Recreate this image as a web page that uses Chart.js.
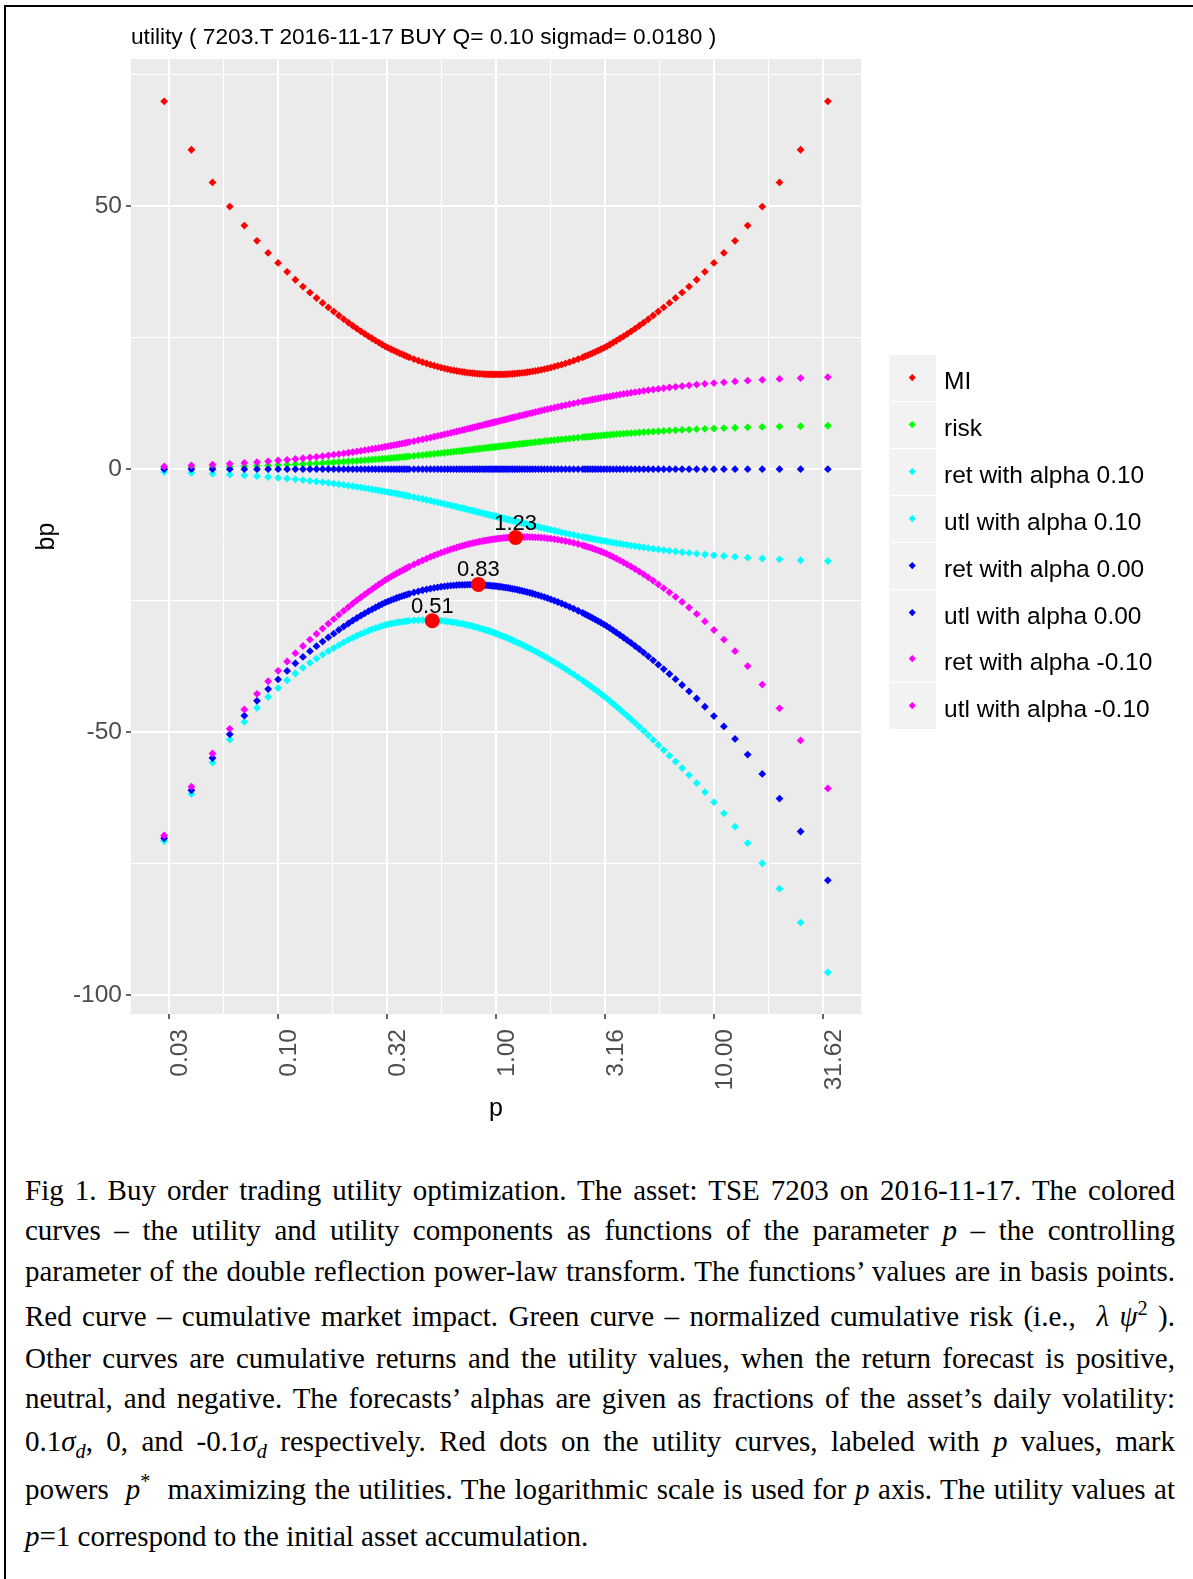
<!DOCTYPE html>
<html><head><meta charset="utf-8">
<script src="https://cdn.jsdelivr.net/npm/chart.js@4.4.1/dist/chart.umd.min.js"></script>
<style>
html,body{margin:0;padding:0;background:#fff;}
body{width:1193px;height:1579px;position:relative;overflow:hidden;font-family:"Liberation Sans",Arial,sans-serif;}
#frame{position:absolute;left:4px;top:5px;width:1300px;height:1700px;border-left:2px solid #000;border-top:2px solid #000;}
#wrap{position:absolute;left:0;top:0;width:1193px;height:1135px;}
#title{position:absolute;left:131px;top:23px;font-size:22.7px;line-height:26px;color:#000;white-space:nowrap;}
#legend{position:absolute;left:889px;top:355px;}
.row{position:absolute;left:0;width:300px;height:47px;}
.key{position:absolute;left:0;top:0;width:47px;height:46px;background:#F2F2F2;}
.key i{position:absolute;left:21px;top:20px;width:4.5px;height:4.5px;transform:rotate(45deg);}
.lab{position:absolute;left:55px;top:2px;font-size:24.5px;line-height:47px;color:#000;white-space:nowrap;}
.cap{position:absolute;left:25px;width:1150px;font-family:"Liberation Serif","Times New Roman",serif;font-size:29px;line-height:30px;color:#000;text-align:justify;text-align-last:justify;white-space:nowrap;}
.cap.last{text-align-last:left;}
.cap sub,.cap sup{line-height:0;font-size:0.7em;}
</style>
</head><body>
<div id="frame"></div>
<div id="wrap"><canvas id="c" width="1193" height="1135"></canvas></div>
<div id="title">utility ( 7203.T 2016-11-17 BUY Q= 0.10 sigmad= 0.0180 )</div>
<div id="legend"></div>
<div class="cap" style="top:1175px">Fig 1. Buy order trading utility optimization. The asset: TSE 7203 on 2016-11-17. The colored</div>
<div class="cap" style="top:1215px">curves – the utility and utility components as functions of the parameter <i>p</i> – the controlling</div>
<div class="cap" style="top:1256px">parameter of the double reflection power-law transform. The functions’ values are in basis points.</div>
<div class="cap" style="top:1301px">Red curve – cumulative market impact. Green curve – normalized cumulative risk (i.e., &nbsp;<i>λ ψ</i><sup>2</sup> ).</div>
<div class="cap" style="top:1343px">Other curves are cumulative returns and the utility values, when the return forecast is positive,</div>
<div class="cap" style="top:1383px">neutral, and negative. The forecasts’ alphas are given as fractions of the asset’s daily volatility:</div>
<div class="cap" style="top:1426px">0.1<i>σ<sub>d</sub></i>, 0, and -0.1<i>σ<sub>d</sub></i> respectively. Red dots on the utility curves, labeled with <i>p</i> values, mark</div>
<div class="cap" style="top:1474px">powers &nbsp;<i>p</i><sup>*</sup>&nbsp; maximizing the utilities. The logarithmic scale is used for <i>p</i> axis. The utility values at</div>
<div class="cap last" style="top:1521px"><i>p</i>=1 correspond to the initial asset accumulation.</div>
<script>
// ---------- data ----------
const pValues = [0.03,0.04,0.05,0.06,0.07,0.08,0.09,0.10,0.11,0.12,0.13,0.14,0.15,0.16,0.17,0.18,0.19,0.20,0.21,0.22,0.23,0.24,0.25,0.26,0.27,0.28,0.29,0.30,0.31,0.32,0.33,0.34,0.35,0.36,0.37,0.38,0.39,0.40,
0.42,0.44,0.46,0.48,0.50,0.52,0.54,0.56,0.58,0.60,0.62,0.64,0.66,0.68,0.70,0.72,0.74,0.76,0.78,0.80,0.82,0.84,0.86,0.88,0.90,0.92,0.94,0.96,0.98,1.00,
1.0204,1.0417,1.0638,1.0870,1.1111,1.1364,1.1628,1.1905,1.2195,1.2500,1.2821,1.3158,1.3514,1.3889,1.4286,1.4706,1.5152,1.5625,1.6129,1.6667,1.7241,1.7857,1.8519,1.9231,2.0000,2.0833,2.1739,2.2727,2.3810,
2.5000,2.5641,2.6316,2.7027,2.7778,2.8571,2.9412,3.0303,3.1250,3.2258,3.3333,3.4483,3.5714,3.7037,3.8462,4.0000,4.1667,4.3478,4.5455,4.7619,5.0000,5.2632,5.5556,5.8824,6.2500,6.6667,7.1429,7.6923,8.3333,9.0909,10.000,11.111,12.500,14.286,16.667,20.000,25.000,33.333];

const miValues = [69.9,60.7,54.5,49.9,46.3,43.4,41.1,39.2,37.5,36.0,34.7,33.56,32.53,31.60,30.74,29.96,29.20,28.50,27.85,27.25,26.70,26.18,25.70,25.25,24.83,24.43,24.05,23.69,23.35,23.06,22.79,22.53,22.29,22.06,21.85,21.64,21.45,21.26,
20.92,20.62,20.34,20.09,19.86,19.66,19.47,19.30,19.15,19.01,18.88,18.77,18.67,18.57,18.49,18.42,18.35,18.29,18.24,18.19,18.15,18.12,18.09,18.06,18.04,18.03,18.01,18.01,18.00,18.00,
18.00,18.01,18.01,18.03,18.04,18.06,18.09,18.12,18.15,18.19,18.24,18.29,18.35,18.42,18.49,18.57,18.67,18.77,18.88,19.01,19.15,19.30,19.47,19.66,19.86,20.09,20.34,20.62,20.92,
21.26,21.45,21.64,21.85,22.06,22.29,22.53,22.79,23.06,23.35,23.69,24.05,24.43,24.83,25.25,25.70,26.18,26.70,27.25,27.85,28.50,29.20,29.96,30.74,31.60,32.53,33.56,34.7,36.0,37.5,39.2,41.1,43.4,46.3,49.9,54.5,60.7,69.9];

const riskValues = [0.25,0.33,0.40,0.48,0.56,0.63,0.70,0.77,0.84,0.91,0.98,1.04,1.11,1.17,1.24,1.30,1.36,1.42,1.48,1.53,1.59,1.65,1.70,1.75,1.81,1.86,1.91,1.96,2.01,2.06,2.11,2.16,2.20,2.25,2.30,2.34,2.39,2.43,
2.51,2.60,2.68,2.76,2.83,2.91,2.98,3.05,3.12,3.19,3.25,3.32,3.38,3.44,3.50,3.56,3.61,3.67,3.72,3.78,3.83,3.88,3.93,3.98,4.03,4.07,4.12,4.16,4.21,4.25,
4.29,4.34,4.38,4.43,4.47,4.52,4.57,4.62,4.67,4.72,4.78,4.83,4.89,4.94,5.00,5.06,5.12,5.18,5.25,5.31,5.38,5.45,5.52,5.59,5.67,5.74,5.82,5.90,5.99,
6.07,6.11,6.16,6.20,6.25,6.30,6.34,6.39,6.44,6.49,6.54,6.59,6.64,6.69,6.75,6.80,6.85,6.91,6.97,7.02,7.08,7.14,7.20,7.26,7.33,7.39,7.46,7.52,7.59,7.66,7.73,7.80,7.87,7.94,8.02,8.10,8.17,8.25];

const retAlphaPos = [-0.52,-0.69,-0.86,-1.02,-1.18,-1.33,-1.49,-1.64,-1.78,-1.93,-2.07,-2.21,-2.35,-2.48,-2.62,-2.75,-2.87,-3.00,-3.12,-3.25,-3.37,-3.48,-3.60,-3.71,-3.83,-3.94,-4.05,-4.15,-4.26,-4.36,-4.47,-4.57,-4.67,-4.76,-4.86,-4.96,-5.05,-5.14,
-5.32,-5.50,-5.67,-5.84,-6.00,-6.16,-6.31,-6.46,-6.61,-6.75,-6.89,-7.02,-7.16,-7.29,-7.41,-7.53,-7.66,-7.77,-7.89,-8.00,-8.11,-8.22,-8.32,-8.43,-8.53,-8.63,-8.72,-8.82,-8.91,-9.00,
-9.09,-9.18,-9.28,-9.38,-9.47,-9.57,-9.68,-9.78,-9.89,-10.00,-10.11,-10.23,-10.34,-10.47,-10.59,-10.71,-10.84,-10.98,-11.11,-11.25,-11.39,-11.54,-11.69,-11.84,-12.00,-12.16,-12.33,-12.50,-12.68,
-12.86,-12.95,-13.04,-13.14,-13.24,-13.33,-13.43,-13.53,-13.64,-13.74,-13.85,-13.95,-14.06,-14.17,-14.29,-14.40,-14.52,-14.63,-14.75,-14.88,-15.00,-15.13,-15.25,-15.38,-15.52,-15.65,-15.79,-15.93,-16.07,-16.22,-16.36,-16.51,-16.67,-16.82,-16.98,-17.14,-17.31,-17.48];

const utlAlphaPos = [-70.67,-61.72,-55.76,-51.40,-48.04,-45.36,-43.29,-41.61,-40.12,-38.84,-37.75,-36.81,-35.99,-35.25,-34.60,-34.01,-33.43,-32.92,-32.45,-32.03,-31.66,-31.31,-31.00,-30.71,-30.47,-30.23,-30.01,-29.80,-29.62,-29.48,-29.37,-29.26,-29.16,-29.07,-29.01,-28.94,-28.89,-28.83,
-28.75,-28.72,-28.69,-28.69,-28.69,-28.73,-28.76,-28.81,-28.88,-28.95,-29.02,-29.11,-29.21,-29.30,-29.40,-29.51,-29.62,-29.73,-29.85,-29.97,-30.09,-30.22,-30.34,-30.47,-30.60,-30.73,-30.85,-30.99,-31.12,-31.25,
-31.38,-31.53,-31.67,-31.84,-31.98,-32.15,-32.34,-32.52,-32.71,-32.91,-33.13,-33.35,-33.58,-33.83,-34.08,-34.34,-34.63,-34.93,-35.24,-35.57,-35.92,-36.29,-36.68,-37.09,-37.53,-37.99,-38.49,-39.02,-39.59,
-40.19,-40.51,-40.84,-41.19,-41.55,-41.92,-42.30,-42.71,-43.14,-43.58,-44.08,-44.59,-45.13,-45.69,-46.29,-46.90,-47.55,-48.24,-48.97,-49.75,-50.58,-51.47,-52.41,-53.38,-54.45,-55.57,-56.81,-58.15,-59.66,-61.38,-63.29,-65.41,-67.94,-71.06,-74.90,-79.74,-86.18,-95.63];

const retAlphaZero = [0,0,0,0,0,0,0,0,0,0, 0,0,0,0,0,0,0,0,0,0, 0,0,0,0,0,0,0,0,0,0, 0,0,0,0,0,0,0,0,0,0, 0,0,0,0,0,0,0,0,0,0, 0,0,0,0,0,0,0,0,0,0, 0,0,0,0,0,0,0,0,0,0,
0,0,0,0,0,0,0,0,0,0, 0,0,0,0,0,0,0,0,0,0, 0,0,0,0,0,0,0,0,0,0, 0,0,0,0,0,0,0,0,0,0, 0,0,0,0,0,0,0,0,0,0, 0,0,0,0,0,0,0,0,0,0, 0,0,0,0,0];

const utlAlphaZero = [-70.15,-61.03,-54.90,-50.38,-46.86,-44.03,-41.80,-39.97,-38.34,-36.91,-35.68,-34.60,-33.64,-32.77,-31.98,-31.26,-30.56,-29.92,-29.33,-28.78,-28.29,-27.83,-27.40,-27.00,-26.64,-26.29,-25.96,-25.65,-25.36,-25.12,-24.90,-24.69,-24.49,-24.31,-24.15,-23.98,-23.84,-23.69,
-23.43,-23.22,-23.02,-22.85,-22.69,-22.57,-22.45,-22.35,-22.27,-22.20,-22.13,-22.09,-22.05,-22.01,-21.99,-21.98,-21.96,-21.96,-21.96,-21.97,-21.98,-22.00,-22.02,-22.04,-22.07,-22.10,-22.13,-22.17,-22.21,-22.25,
-22.29,-22.35,-22.39,-22.46,-22.51,-22.58,-22.66,-22.74,-22.82,-22.91,-23.02,-23.12,-23.24,-23.36,-23.49,-23.63,-23.79,-23.95,-24.13,-24.32,-24.53,-24.75,-24.99,-25.25,-25.53,-25.83,-26.16,-26.52,-26.91,
-27.33,-27.56,-27.80,-28.05,-28.31,-28.59,-28.87,-29.18,-29.50,-29.84,-30.23,-30.64,-31.07,-31.52,-32.00,-32.50,-33.03,-33.61,-34.22,-34.87,-35.58,-36.34,-37.16,-38.00,-38.93,-39.92,-41.02,-42.22,-43.59,-45.16,-46.93,-48.90,-51.27,-54.24,-57.92,-62.60,-68.87,-78.15];

const retAlphaNeg = [0.52,0.69,0.86,1.02,1.18,1.33,1.49,1.64,1.78,1.93,2.07,2.21,2.35,2.48,2.62,2.75,2.87,3.00,3.12,3.25,3.37,3.48,3.60,3.71,3.83,3.94,4.05,4.15,4.26,4.36,4.47,4.57,4.67,4.76,4.86,4.96,5.05,5.14,
5.32,5.50,5.67,5.84,6.00,6.16,6.31,6.46,6.61,6.75,6.89,7.02,7.16,7.29,7.41,7.53,7.66,7.77,7.89,8.00,8.11,8.22,8.32,8.43,8.53,8.63,8.72,8.82,8.91,9.00,
9.09,9.18,9.28,9.38,9.47,9.57,9.68,9.78,9.89,10.00,10.11,10.23,10.34,10.47,10.59,10.71,10.84,10.98,11.11,11.25,11.39,11.54,11.69,11.84,12.00,12.16,12.33,12.50,12.68,
12.86,12.95,13.04,13.14,13.24,13.33,13.43,13.53,13.64,13.74,13.85,13.95,14.06,14.17,14.29,14.40,14.52,14.63,14.75,14.88,15.00,15.13,15.25,15.38,15.52,15.65,15.79,15.93,16.07,16.22,16.36,16.51,16.67,16.82,16.98,17.14,17.31,17.48];

const utlAlphaNeg = [-69.63,-60.34,-54.04,-49.36,-45.68,-42.70,-40.31,-38.33,-36.56,-34.98,-33.61,-32.39,-31.29,-30.29,-29.36,-28.51,-27.69,-26.92,-26.21,-25.53,-24.92,-24.35,-23.80,-23.29,-22.81,-22.35,-21.91,-21.50,-21.10,-20.76,-20.43,-20.12,-19.82,-19.55,-19.29,-19.02,-18.79,-18.55,
-18.11,-17.72,-17.35,-17.01,-16.69,-16.41,-16.14,-15.89,-15.66,-15.45,-15.24,-15.07,-14.89,-14.72,-14.58,-14.45,-14.30,-14.19,-14.07,-13.97,-13.87,-13.78,-13.70,-13.61,-13.54,-13.47,-13.41,-13.35,-13.30,-13.25,
-13.20,-13.17,-13.11,-13.08,-13.04,-13.01,-12.98,-12.96,-12.93,-12.91,-12.91,-12.89,-12.90,-12.89,-12.90,-12.92,-12.95,-12.97,-13.02,-13.07,-13.14,-13.21,-13.30,-13.41,-13.53,-13.67,-13.83,-14.02,-14.23,
-14.47,-14.61,-14.76,-14.91,-15.07,-15.26,-15.44,-15.65,-15.86,-16.10,-16.38,-16.69,-17.01,-17.35,-17.71,-18.10,-18.51,-18.98,-19.47,-19.99,-20.58,-21.21,-21.91,-22.62,-23.41,-24.27,-25.23,-26.29,-27.52,-28.94,-30.57,-32.39,-34.60,-37.42,-40.94,-45.46,-51.56,-60.67];

// maximizing powers p* and utility values there
const optP = [0.51, 0.83, 1.23];
const optU = [-28.8, -21.9, -13.0];
const optLabels = ['0.51', '0.83', '1.23'];

const seriesNames = ['MI', 'risk', 'ret with alpha 0.10', 'utl with alpha 0.10', 'ret with alpha 0.00', 'utl with alpha 0.00', 'ret with alpha -0.10', 'utl with alpha -0.10'];
const seriesValues = [miValues, riskValues, retAlphaPos, utlAlphaPos, retAlphaZero, utlAlphaZero, retAlphaNeg, utlAlphaNeg];

const xTickValues = [0.0316228, 0.0562341, 0.1, 0.1778279, 0.3162278, 0.5623413, 1, 1.7782794, 3.1622777, 5.6234133, 10, 17.7827941, 31.6227766];
const xTickLabels = ['0.03', '', '0.10', '', '0.32', '', '1.00', '', '3.16', '', '10.00', '', '31.62'];
const yTickValues = [-100, -75, -50, -25, 0, 25, 50, 75];
const yTickLabels = ['-100', '', '-50', '', '0', '', '50', ''];

// ---------- styles ----------
const seriesColors = ['#FF0000', '#00FF00', '#00FFFF', '#00FFFF', '#0000FF', '#0000FF', '#FF00FF', '#FF00FF'];
const FONT = '"Liberation Sans", Arial, sans-serif';

const datasets = seriesNames.map((name, k) => ({
  type: 'scatter',
  label: name,
  data: pValues.map((p, i) => ({x: p, y: seriesValues[k][i]})),
  backgroundColor: seriesColors[k],
  borderWidth: 0,
  pointStyle: 'rectRot',
  pointRadius: 3.9,
  order: seriesNames.length - k
}));
datasets.push({
  type: 'scatter',
  label: 'optimum',
  data: optP.map((p, i) => ({x: p, y: optU[i]})),
  backgroundColor: '#FF0000',
  borderWidth: 0,
  pointStyle: 'circle',
  pointRadius: 7.5,
  order: 0
});

const panelBg = {
  id: 'panelBg',
  beforeDraw(chart) {
    const a = chart.chartArea, ctx = chart.ctx;
    ctx.save();
    ctx.fillStyle = '#EBEBEB';
    ctx.fillRect(a.left, a.top, a.right - a.left, a.bottom - a.top);
    ctx.restore();
  }
};
const optText = {
  id: 'optText',
  afterDatasetsDraw(chart) {
    const ctx = chart.ctx, xs = chart.scales.x, ys = chart.scales.y;
    ctx.save();
    ctx.font = '22px ' + FONT;
    ctx.fillStyle = '#000';
    ctx.textAlign = 'center';
    ctx.textBaseline = 'alphabetic';
    optLabels.forEach((t, i) => {
      ctx.fillText(t, xs.getPixelForValue(optP[i]), ys.getPixelForValue(optU[i]) - 8);
    });
    ctx.restore();
  }
};

new Chart(document.getElementById('c'), {
  data: {datasets},
  plugins: [panelBg, optText],
  options: {
    responsive: false,
    animation: false,
    events: [],
    layout: {padding: {left: 0, top: 59, right: 332, bottom: 0}},
    plugins: {legend: {display: false}, tooltip: {enabled: false}, title: {display: false}},
    scales: {
      x: {
        type: 'logarithmic',
        position: 'bottom',
        min: 0.02113,
        max: 47.32,
        afterBuildTicks: s => { s.ticks = xTickValues.map(v => ({value: v})); },
        afterFit: s => { s.height = 121; },
        border: {display: false},
        grid: {
          color: '#FFFFFF',
          lineWidth: c => (xTickLabels[c.index] ? 2 : 1),
          drawTicks: true,
          tickLength: 5,
          tickWidth: 1.5,
          tickColor: c => (xTickLabels[c.index] ? '#333333' : 'rgba(0,0,0,0)')
        },
        ticks: {
          autoSkip: false,
          minRotation: 90,
          maxRotation: 90,
          padding: 10,
          labelOffset: 11,
          color: '#4D4D4D',
          font: {family: FONT, size: 24.5},
          callback: (v, i) => xTickLabels[i]
        },
        title: {display: true, text: 'p', color: '#000', font: {family: FONT, size: 25}, padding: {top: 0, bottom: 11}}
      },
      y: {
        type: 'linear',
        position: 'left',
        min: -103.55,
        max: 77.95,
        afterBuildTicks: s => { s.ticks = yTickValues.map(v => ({value: v})); },
        afterFit: s => { s.width = 131; },
        border: {display: false},
        grid: {
          color: '#FFFFFF',
          lineWidth: c => (yTickLabels[c.index] ? 2 : 1),
          drawTicks: true,
          tickLength: 5,
          tickWidth: 1.5,
          tickColor: c => (yTickLabels[c.index] ? '#333333' : 'rgba(0,0,0,0)')
        },
        ticks: {
          autoSkip: false,
          padding: 4,
          color: '#4D4D4D',
          font: {family: FONT, size: 24.5},
          callback: (v, i) => yTickLabels[i]
        },
        title: {display: true, text: 'bp', color: '#000', font: {family: FONT, size: 25}, padding: {top: 32, bottom: 0}}
      }
    }
  }
});

// HTML legend built from the series names / colours
const leg = document.getElementById('legend');
seriesNames.forEach((name, k) => {
  const row = document.createElement('div');
  row.className = 'row';
  row.style.top = (k * 46.9) + 'px';
  row.innerHTML = '<div class="key"><i style="background:' + seriesColors[k] + '"></i></div><div class="lab"></div>';
  row.querySelector('.lab').textContent = name;
  leg.appendChild(row);
});
</script>
</body></html>
